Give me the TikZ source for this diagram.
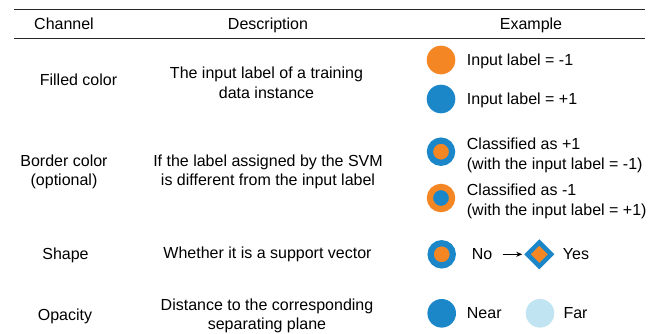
\documentclass[tikz,border=0pt]{standalone}
\usepackage{fontspec}
\setmainfont{Liberation Sans}
\usetikzlibrary{shapes.geometric,arrows.meta}
\definecolor{svmorange}{RGB}{245,134,36}
\definecolor{svmblue}{RGB}{27,135,201}
\definecolor{svmpale}{RGB}{192,228,241}

\begin{document}
\begin{tikzpicture}[x=1pt, y=-1pt,
        every node/.style={inner sep=0pt, font=\fontsize{16}{19.5}\selectfont},
        dot/.style={circle, fill=#1, minimum size=28.6pt},
        ring/.style 2 args={circle, fill=#1, draw=#2, line width=6.2pt, minimum size=22.2pt},
        rule/.style={line width=1.1pt, black!85}]
    \useasboundingbox (0,0) rectangle (661,333);
    \draw[rule] (14,9.5) -- (645,9.5);
    \draw[rule] (14,38.5) -- (645,38.5);

    \node (hchan) at (64,24) {Channel};
    \node (hdesc) at (268,25.7) {Description};
    \node (hex) at (531,25.7) {Example};

    \node (cfill) at (78.5,80) {Filled color};
    \node[align=center] (dfill) at (266.5,83) {The input label of a training\\data instance};
    \node[dot=svmorange] (neg) at (441,60) {};
    \node[dot=svmblue] (pos) at (441,99) {};
    \node[anchor=west] (tneg) at (466.7,61.7) {Input label = -1};
    \node[anchor=west] (tpos) at (466.7,100.2) {Input label = +1};

    \node[align=center] (cborder) at (64,172) {Border color\\(optional)};
    \node[align=center] (dborder) at (268,172) {If the label assigned by the SVM\\is different from the input label};
    \node[ring={svmorange}{svmblue}] (flip1) at (441,151.7) {};
    \node[ring={svmblue}{svmorange}] (flip2) at (441,198) {};
    \node[anchor=west, align=left] (tflip1) at (466.7,155.4) {Classified as +1\\(with the input label = -1)};
    \node[anchor=west, align=left] (tflip2) at (466.7,201.2) {Classified as -1\\(with the input label = +1)};

    \node (cshape) at (65.5,255) {Shape};
    \node (dshape) at (267.5,254.7) {Whether it is a support vector};
    \node[ring={svmorange}{svmblue}] (nsv) at (441.7,254.3) {};
    \node[anchor=west] (no) at (471.7,254.3) {No};
    \node[diamond, fill=svmorange, draw=svmblue, line width=4.5pt, minimum size=25.6pt] (sv) at (539.3,254.3) {};
    \node[anchor=west] (yes) at (562.7,254.3) {Yes};
    \draw[-{Stealth[length=6pt,width=5pt]}, line width=0.9pt, shorten <=10pt, shorten >=2pt] (no) -- (sv);

    \node (copac) at (65,316.7) {Opacity};
    \node[align=center] (dopac) at (267,315.9) {Distance to the corresponding\\separating plane};
    \node[dot=svmblue] (near) at (441.7,313.3) {};
    \node[anchor=west] (tnear) at (466.7,313.3) {Near};
    \node[dot=svmpale] (far) at (540,313.3) {};
    \node[anchor=west] (tfar) at (563.3,313.3) {Far};
\end{tikzpicture}
\end{document}
